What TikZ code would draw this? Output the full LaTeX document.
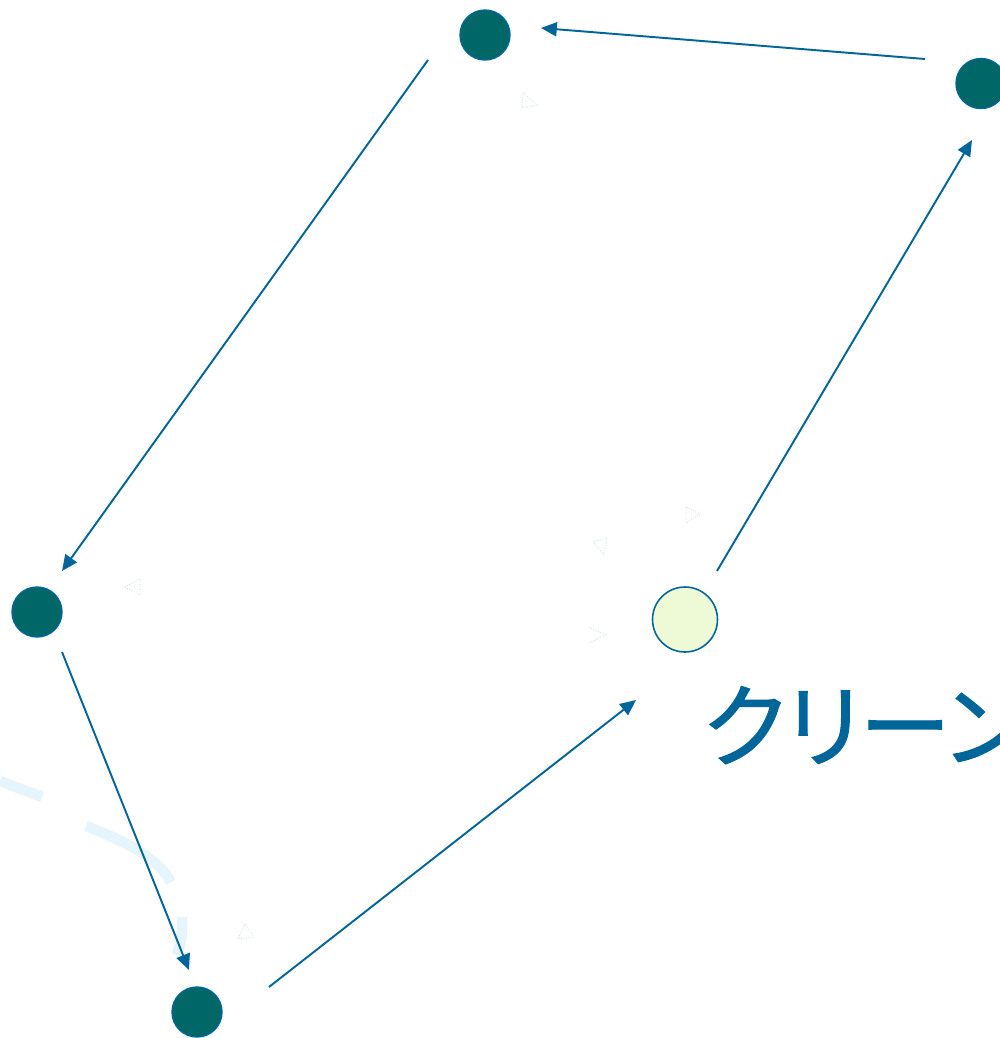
\documentclass[tikz,border=0pt]{standalone}
\usepackage{fontspec}
\newfontfamily\cjk[FakeBold=1.2,RawFeature=+palt]{Noto Sans CJK JP}
\usetikzlibrary{arrows.meta,calc}
\definecolor{tealfill}{HTML}{006666}
\definecolor{edgeblue}{HTML}{006699}
\definecolor{palegreen}{HTML}{EEF9D5}
\definecolor{faintarc}{HTML}{E6F4FD}
\definecolor{faintri}{HTML}{BCD7EA}
\begin{document}
\begin{tikzpicture}[x=0.02cm,y=-0.02cm,
  dot/.style={circle,fill=tealfill,draw=edgeblue,line width=0.8pt,minimum size=1cm,inner sep=0pt},
  startdot/.style={circle,fill=palegreen,draw=edgeblue,line width=0.9pt,minimum size=1.3cm,inner sep=0pt},
  arr/.style={draw=edgeblue,line width=1.1pt,-{Triangle[length=9pt,width=8pt]}},
  arcpiece/.style={draw=faintarc,line width=6pt},
  ghosttri/.style={draw=faintri,line width=0.4pt,densely dotted}]
\useasboundingbox (0,0) rectangle (1000,1038);
\fill[white] (0,0) rectangle (1000,1038);
% faint background arc pieces
\draw[arcpiece] (0,781) -- (42,797);
\draw[arcpiece] (86,826) .. controls (125,841) and (158,858) .. (171,882);
\draw[arcpiece] (182,917) .. controls (183,930) and (181,942) .. (177,955);
% faint triangles
\draw[ghosttri] (522,108) -- (523,92) -- (537,105) -- cycle;
\draw[ghosttri] (686,507) -- (686,523) -- (700,514) -- cycle;
\draw[ghosttri] (593,542) -- (607,538) -- (604,555) -- cycle;
\draw[ghosttri] (125,587) -- (140,579) -- (140,595) -- cycle;
\draw[ghosttri] (589,627) -- (605,635) -- (589,643);
\draw[ghosttri] (245,924) -- (238,939) -- (254,937) -- cycle;
% nodes
\node[dot] (A) at (485,35) {};
\node[dot] (B) at (981,83.5) {};
\node[dot] (C) at (37,612) {};
\node[dot] (D) at (197,1012) {};
\node[startdot] (E) at (685,619.5) {};
% connectors
\draw[arr] ($(B)+(-56,-24.5)$) -- ($(A)+(56,-7)$);
\draw[arr] ($(A)+(-57,25)$) -- ($(C)+(25,-41)$);
\draw[arr] ($(C)+(25,40)$) -- ($(D)+(-8,-42)$);
\draw[arr] ($(D)+(72,-25)$) -- ($(E)+(-49,80.5)$);
\draw[arr] ($(E)+(32,-48.5)$) -- ($(B)+(-9,56.5)$);
% label
\node[anchor=base west,text=edgeblue,inner sep=0pt,font=\cjk\fontsize{52}{52}\selectfont] (T) at (703,760) {クリーン};
\end{tikzpicture}
\end{document}
